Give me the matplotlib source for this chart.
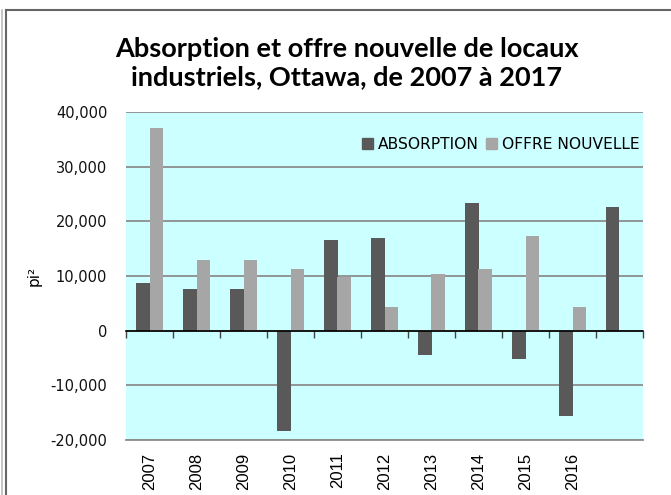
import matplotlib.pyplot as plt
from matplotlib.lines import Line2D
from matplotlib.patches import Patch
from matplotlib.ticker import FuncFormatter
import numpy as np

# Données (pi²)
annees = [2007, 2008, 2009, 2010, 2011, 2012, 2013, 2014, 2015, 2016, 2017]
etiquettes = ['2007', '2008', '2009', '2010', '2011', '2012', '2013', '2014', '2015', '2016', '']
absorption = [8800, 7700, 7700, -18300, 16500, 17000, -4500, 23400, -5200, -15600, 22700]
offre_nouvelle = [37000, 13000, 13000, 11300, 9900, 4400, 10400, 11300, 17400, 4300, 0]

COUL_ABS = '#595959'
COUL_OFFRE = '#a6a6a6'
FOND = '#ccffff'
GRILLE = '#8c8c8c'

fig = plt.figure(figsize=(6.71, 4.95), dpi=100)
ax = fig.add_axes([126 / 671, 1 - 440 / 495, 517 / 671, 328 / 495])
ax.set_facecolor(FOND)

x = np.arange(len(annees))
larg = 0.29
ax.bar(x - larg / 2, absorption, larg, color=COUL_ABS, zorder=3)
ax.bar(x + larg / 2, offre_nouvelle, larg, color=COUL_OFFRE, zorder=3)

ax.set_xlim(-0.5, len(annees) - 0.5)
ax.set_ylim(-20000, 40000)
ax.set_yticks(np.arange(-20000, 40001, 10000))
ax.yaxis.set_major_formatter(FuncFormatter(lambda v, p: f'{int(v):,}'))
ax.yaxis.grid(True, color=GRILLE, lw=1.3, zorder=1)
ax.tick_params(axis='y', length=0, pad=13.5, labelsize=10.5, labelcolor='#111111')

for s in ['top', 'left', 'right']:
    ax.spines[s].set_visible(False)
ax.spines['bottom'].set_color(GRILLE)
ax.spines['bottom'].set_linewidth(1.3)

# étiquettes des années sous le graphique
ax.set_xticks(x)
ax.set_xticklabels(etiquettes, rotation=90, fontsize=12, family='Liberation Sans')
ax.tick_params(axis='x', length=0, pad=9)

# axe horizontal à zéro avec graduations entre les catégories
zero = ax.secondary_xaxis(1 / 3)
zero.set_xticks(np.arange(len(annees) + 1) - 0.5)
zero.set_xticklabels([])
zero.tick_params(axis='x', direction='out', length=5, color='#444444', width=1)
zero.spines['bottom'].set_color('black')
zero.spines['bottom'].set_linewidth(1.2)
zero.set_zorder(4)

ax.set_ylabel('pi²', fontsize=11, labelpad=6)

fig.text(0.517, 0.872, 'Absorption et offre nouvelle de locaux\nindustriels, Ottawa, de 2007 à 2017',
         ha='center', va='center', fontsize=19.5, fontweight='bold', family='Lato', linespacing=1.2)

poignees = [Patch(color=COUL_ABS, label='ABSORPTION'), Patch(color=COUL_OFFRE, label='OFFRE NOUVELLE')]
ax.legend(handles=poignees, ncol=2, frameon=False, loc='upper right', bbox_to_anchor=(1.005, 0.942),
          fontsize=11.2, handlelength=0.7, handleheight=0.7, handletextpad=0.3, columnspacing=0.5,
          borderaxespad=0)

# cadre du graphique
fig.add_artist(Line2D([6 / 671, 6 / 671], [0, 1 - 10 / 495], color='#666666', lw=1.5))
fig.add_artist(Line2D([6 / 671, 1], [1 - 10 / 495, 1 - 10 / 495], color='#666666', lw=1.5))
fig.add_artist(Line2D([2 / 671, 2 / 671], [0, 1 - 10 / 495], color='#bbbbbb', lw=1.2))

fig.savefig('out.png', dpi=100)
